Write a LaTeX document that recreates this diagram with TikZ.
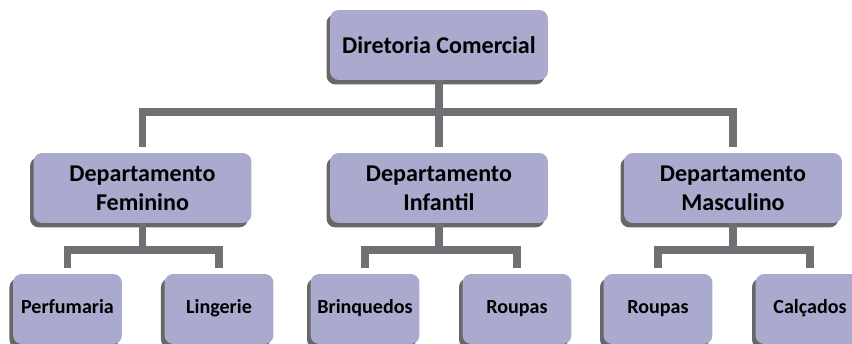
\documentclass[tikz,border=0pt]{standalone}
\usepackage{fontspec}
\setmainfont{Carlito}
\usetikzlibrary{positioning,shadows}
\definecolor{boxfill}{RGB}{170,170,206}
\definecolor{linkgray}{RGB}{112,112,116}
\tikzset{
  unitbox/.style={rounded corners=5pt, fill=boxfill, minimum width=4.36cm, minimum height=1.4cm, align=center,
    font=\fontsize{13.7}{16.5}\selectfont\bfseries,
    drop shadow={shadow xshift=-2pt, shadow yshift=-2.5pt, fill=black!70, opacity=0.85}},
  leafbox/.style={unitbox, minimum width=2.18cm, font=\fontsize{11.4}{13}\selectfont\bfseries,
    text height=0.72em, text depth=0.22em},
  link/.style={draw=linkgray, line width=4.5pt},
  tolink/.style={link, shorten >=3pt}
}
\begin{document}
\begin{tikzpicture}[x=0.02cm, y=-0.02cm]
  \useasboundingbox (0,0) rectangle (852,344);
  \node[unitbox] (dir) at (439,45) {Diretoria Comercial};
  \node[unitbox] (fem) at (142.5,188) {Departamento\\Feminino};
  \node[unitbox] (inf) at (439,188) {Departamento\\Infantil};
  \node[unitbox] (masc) at (733,188) {Departamento\\Masculino};
  \node[leafbox] (perf) at (67.5,309) {Perfumaria};
  \node[leafbox] (ling) at (219,309) {Lingerie};
  \node[leafbox] (brinq) at (365,309) {Brinquedos};
  \node[leafbox] (roupinf) at (517,309) {Roupas};
  \node[leafbox] (roupmasc) at (658,309) {Roupas};
  \node[leafbox] (calc) at (810,309) {Calçados};

  % diretoria -> departamentos
  \draw[link] (dir.south) -- ++(0,32) coordinate (hub);
  \draw[tolink] (hub) -| (fem.north);
  \draw[tolink] (hub) -- (inf.north);
  \draw[tolink] (hub) -| (masc.north);

  % departamentos -> setores
  \draw[link] (fem.south) -- ++(0,27) coordinate (femhub);
  \draw[tolink] (femhub) -| (perf.north);
  \draw[tolink] (femhub) -| (ling.north);
  \draw[link] (inf.south) -- ++(0,27) coordinate (infhub);
  \draw[tolink] (infhub) -| (brinq.north);
  \draw[tolink] (infhub) -| (roupinf.north);
  \draw[link] (masc.south) -- ++(0,27) coordinate (maschub);
  \draw[tolink] (maschub) -| (roupmasc.north);
  \draw[tolink] (maschub) -| (calc.north);
\end{tikzpicture}
\end{document}
